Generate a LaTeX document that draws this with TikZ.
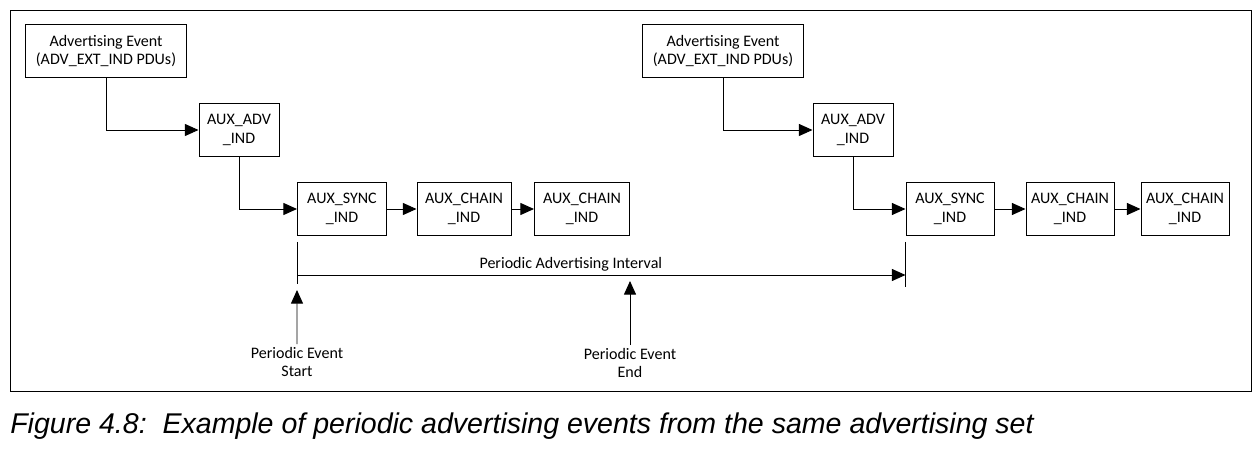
\documentclass[tikz,border=0pt]{standalone}
\usepackage{fontspec}
\usepackage{tikz}
\usetikzlibrary{arrows.meta, positioning, calc}
\newfontfamily\boxfont{Carlito}
\newfontfamily\capfont{Liberation Sans}

\begin{document}
\begin{tikzpicture}[
    x=0.025cm, y=-0.025cm,
    box/.style={rectangle, draw, line width=0.7pt, minimum height=1.325cm, text centered, align=center, font=\boxfont\fontsize{11.4}{13}\selectfont, inner sep=2pt},
    lbl/.style={align=center, font=\boxfont\fontsize{11.4}{13}\selectfont, inner sep=2pt},
    arrow/.style={-{Triangle[length=3.4mm, width=3mm]}, line width=0.7pt},
    tick/.style={line width=0.7pt}
]
\useasboundingbox (0,0) rectangle (1260,452);
% Outer frame
\draw[line width=0.6pt] (10,10) rectangle (1251,391);

% First periodic event
\node[box, minimum width=4cm] (adv1) at (106,51) {Advertising Event\\(ADV\_EXT\_IND PDUs)};
\node[box, minimum width=2cm] (auxadv1) at (239,130) {AUX\_ADV\\\_IND};
\node[box, minimum width=2.225cm] (sync1) at (342,209) {AUX\_SYNC\\\_IND};
\node[box, minimum width=2.35cm] (chainA1) at (464,209) {AUX\_CHAIN\\\_IND};
\node[box, minimum width=2.375cm] (chainB1) at (582,209) {AUX\_CHAIN\\\_IND};

% Second periodic event
\node[box, minimum width=4cm] (adv2) at (723,51) {Advertising Event\\(ADV\_EXT\_IND PDUs)};
\node[box, minimum width=2cm] (auxadv2) at (853,130) {AUX\_ADV\\\_IND};
\node[box, minimum width=2.2cm] (sync2) at (950,209) {AUX\_SYNC\\\_IND};
\node[box, minimum width=2.2cm] (chainA2) at (1070,209) {AUX\_CHAIN\\\_IND};
\node[box, minimum width=2.2cm] (chainB2) at (1185,209) {AUX\_CHAIN\\\_IND};

% Interval markers
\coordinate (tickAtop) at ($(sync1.south west)+(0,6)$);
\coordinate (tickAbot) at ($(sync1.south west)+(0,48)$);
\coordinate (tickBtop) at ($(sync2.south west)+(0,6)$);
\coordinate (tickBbot) at ($(sync2.south west)+(0,51)$);
\coordinate (ivA) at ($(sync1.south west)+(0,39)$);
\coordinate (ivB) at ($(sync2.south west)+(0,39)$);
\coordinate (startTip) at ($(sync1.south west)+(0,54)$);
\coordinate (endTip) at (630,281);

\node[lbl] (evstart) at (297,362) {Periodic Event\\Start};
\node[lbl] (evend) at (630,363) {Periodic Event\\End};

% Caption
\node[anchor=west, inner sep=0pt, font=\capfont\itshape\fontsize{20.3}{22}\selectfont] (caption) at (10,426) {Figure 4.8:\ \ Example of periodic advertising events from the same advertising set};

% Arrow Connections
\draw[arrow] (adv1.south) |- (auxadv1.west);
\draw[arrow] (auxadv1.south) |- (sync1.west);
\draw[arrow] (sync1) -- (chainA1);
\draw[arrow] (chainA1) -- (chainB1);
\draw[arrow] (adv2.south) |- (auxadv2.west);
\draw[arrow] (auxadv2.south) |- (sync2.west);
\draw[arrow] (sync2) -- (chainA2);
\draw[arrow] (chainA2) -- (chainB2);
\draw[tick] (tickAtop) -- (tickAbot);
\draw[tick] (tickBtop) -- (tickBbot);
\draw[arrow] (ivA) -- node[above, pos=0.45, lbl] {Periodic Advertising Interval} (ivB);
\draw[arrow] (evstart.north) -- (startTip);
\draw[arrow] (evend.north) -- (endTip);

\end{tikzpicture}
\end{document}
